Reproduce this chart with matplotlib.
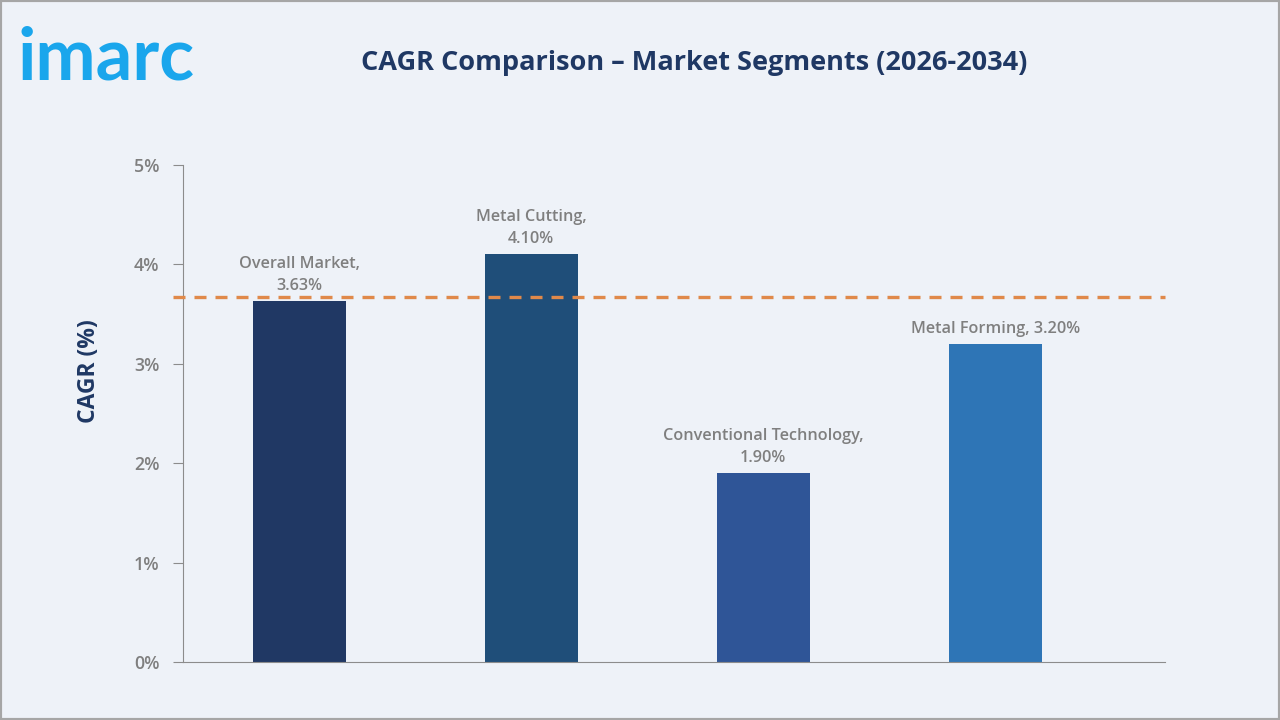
import numpy as np
import matplotlib.pyplot as plt
from matplotlib.patches import Rectangle

categories = ["Overall Market", "Metal Cutting", "Conventional Technology", "Metal Forming"]
cagr = [3.63, 4.10, 1.90, 3.20]
bar_labels = ["Overall Market,\n3.63%", "Metal Cutting,\n4.10%", "Conventional Technology,\n1.90%", "Metal Forming, 3.20%"]
overall_line = 3.67
yticks = [0, 1, 2, 3, 4, 5]
colors = ["#203864", "#1F4E79", "#2F5597", "#2E75B6"]

plt.rcParams['font.family'] = ['Open Sans', 'DejaVu Sans']
bg = "#EEF2F8"
grey = "#7F7F7F"
navy = "#1F3864"

fig = plt.figure(figsize=(12.8, 7.2), dpi=100, facecolor=bg)
fig.patches.append(Rectangle((0, 0), 1, 1, transform=fig.transFigure, fill=False,
                             edgecolor="#A6A6A6", linewidth=3))
ax = fig.add_axes([0.143, 0.0806, 0.767, 0.6904])
ax.set_facecolor(bg)

x = np.arange(len(categories))
ax.bar(x, cagr, width=0.4, color=colors, zorder=2)
ax.set_xlim(-0.5, 3.73)
ax.set_ylim(0, 5)

for xi, v, lab in zip(x, cagr, bar_labels):
    ax.text(xi, v + 0.07, lab, ha="center", va="bottom", fontsize=11.7, color=grey,
            fontweight="semibold", linespacing=1.55)

ax.plot([-0.545, 3.73], [overall_line, overall_line], linestyle=(0, (3.6, 2.7)), color="#E0894A",
        linewidth=2.4, clip_on=False, zorder=3)

ax.set_yticks(yticks)
ax.set_yticklabels([f"{t}%" for t in yticks], fontsize=12.8, color=grey, fontweight="semibold")
ax.set_xticks([])
for s in ["top", "right"]:
    ax.spines[s].set_visible(False)
ax.spines["left"].set_color("#8C8C8C")
ax.spines["bottom"].set_color("#8C8C8C")
ax.tick_params(axis="y", color="#8C8C8C", length=7, pad=10)
ax.set_ylabel("CAGR (%)", fontsize=16.5, fontweight="bold", color=navy)
ax.yaxis.set_label_coords(-0.084, 0.585)

fig.text(0.542, 0.913, "CAGR Comparison – Market Segments (2026-2034)", ha="center", va="center",
         fontsize=19.5, fontweight="bold", color=navy)
fig.text(0.014, 0.918, "imarc", ha="left", va="center", fontsize=52, fontweight="bold",
         color="#1AA6EC", family=["Lato", "DejaVu Sans"])

fig.savefig("out.png", dpi=100, facecolor=bg)
